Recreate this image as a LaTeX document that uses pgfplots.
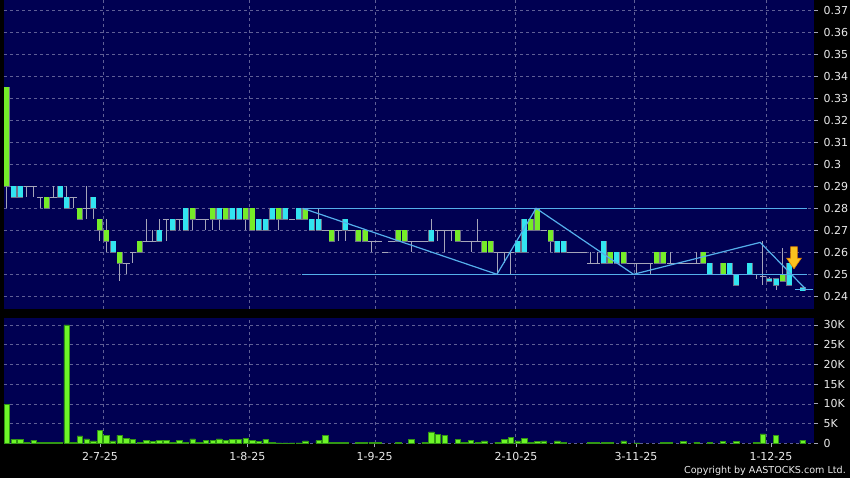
\documentclass[border=0pt]{standalone}
\usepackage{pgfplots}
\pgfplotsset{compat=1.18}
\usepackage{pgfplotstable}
\usepackage{fontspec}
\setmainfont{DejaVu Sans}

\definecolor{navy}{RGB}{0,0,82}
\definecolor{upgreen}{RGB}{118,236,40}
\definecolor{upcyan}{RGB}{50,228,240}
\definecolor{wick}{RGB}{165,165,185}
\definecolor{edge}{RGB}{110,110,135}
\definecolor{trend}{RGB}{85,175,235}
\definecolor{gridc}{RGB}{95,95,150}
\definecolor{volgreen}{RGB}{110,245,40}
\definecolor{voledge}{RGB}{50,150,20}
\definecolor{labelc}{RGB}{235,235,235}
\definecolor{arrowgold}{RGB}{250,195,30}
\definecolor{arroworange}{RGB}{225,130,0}

% k = trading day index, l/h = low/high, bl/bh = body, t: 0 flat, 1 green, 2 cyan, v = volume (K)
\pgfplotstableread{
k l h bl bh t v
0 0.28 0.335 0.29 0.335 1 9.9
1 0.285 0.29 0.285 0.29 2 1.0
2 0.285 0.29 0.285 0.29 2 1.0
3 0.285 0.29 0.29 0.29 0 0.3
4 0.285 0.29 0.29 0.29 0 0.8
5 0.28 0.285 0.285 0.285 0 0.3
6 0.28 0.285 0.28 0.285 1 0.3
7 0.285 0.29 0.285 0.285 0 0.3
8 0.285 0.29 0.285 0.29 2 0.3
9 0.28 0.29 0.28 0.285 2 30.0
10 0.28 0.285 0.285 0.285 0 0.3
11 0.275 0.28 0.275 0.28 1 1.9
12 0.275 0.29 0.28 0.28 0 1.1
13 0.275 0.285 0.28 0.285 2 0.6
14 0.265 0.275 0.27 0.275 1 3.3
15 0.26 0.275 0.265 0.27 1 2.0
16 0.26 0.265 0.26 0.265 2 0.6
17 0.247 0.26 0.255 0.26 1 2.0
18 0.25 0.255 0.255 0.255 0 1.2
19 0.255 0.26 0.26 0.26 0 1.0
20 0.26 0.265 0.26 0.265 1 0.2
21 0.265 0.275 0.265 0.265 0 0.8
22 0.265 0.27 0.265 0.265 0 0.5
23 0.265 0.275 0.265 0.27 2 0.8
24 0.265 0.275 0.275 0.275 0 0.7
25 0.27 0.275 0.27 0.275 2 0.2
26 0.27 0.275 0.275 0.275 0 0.8
27 0.27 0.28 0.27 0.28 2 0.2
28 0.27 0.28 0.275 0.28 1 1.1
29 0.275 0.275 0.275 0.275 0 0.2
30 0.27 0.275 0.275 0.275 0 0.8
31 0.27 0.28 0.275 0.28 1 0.7
32 0.27 0.28 0.275 0.28 2 1.1
33 0.275 0.28 0.275 0.28 1 0.7
34 0.275 0.28 0.275 0.28 2 1.0
35 0.275 0.28 0.275 0.28 2 1.0
36 0.27 0.28 0.275 0.28 1 1.2
37 0.27 0.28 0.27 0.28 1 0.8
38 0.27 0.275 0.27 0.275 2 0.4
39 0.27 0.275 0.27 0.275 2 1.0
40 0.275 0.28 0.275 0.28 2 0.25
41 0.27 0.28 0.275 0.28 1 0.1
42 0.275 0.28 0.275 0.28 2 0.1
43 0.275 0.275 0.275 0.275 0 0.1
44 0.275 0.28 0.275 0.28 2 0.1
45 0.275 0.28 0.275 0.28 1 0.6
46 0.27 0.275 0.27 0.275 2 0
47 0.27 0.28 0.27 0.275 2 0.7
48 0.27 0.27 0.27 0.27 0 2.1
49 0.265 0.27 0.265 0.27 1 0.3
50 0.265 0.27 0.27 0.27 0 0.25
51 0.265 0.275 0.27 0.275 2 0.3
52 0.27 0.27 0.27 0.27 0 0
53 0.265 0.27 0.265 0.27 1 0.3
54 0.265 0.27 0.265 0.27 1 0.3
55 0.26 0.265 0.265 0.265 0 0.3
56 0.265 0.265 0.265 0.265 0 0.3
57 0.26 0.26 0.26 0.26 0 0
58 0.265 0.265 0.265 0.265 0 0
59 0.265 0.27 0.265 0.27 1 0.2
60 0.265 0.27 0.265 0.27 1 0
61 0.26 0.265 0.265 0.265 0 1.0
62 0.265 0.265 0.265 0.265 0 0
63 0.265 0.265 0.265 0.265 0 0.25
64 0.265 0.275 0.265 0.27 2 2.9
65 0.265 0.27 0.27 0.27 0 2.3
66 0.26 0.27 0.27 0.27 0 2.1
67 0.265 0.27 0.27 0.27 0 0
68 0.265 0.27 0.265 0.27 1 1.0
69 0.265 0.265 0.265 0.265 0 0.2
70 0.26 0.265 0.265 0.265 0 0.8
71 0.265 0.275 0.265 0.265 0 0.2
72 0.26 0.265 0.26 0.265 1 0.6
73 0.26 0.265 0.26 0.265 1 0
74 0.25 0.26 0.26 0.26 0 0.3
75 0.255 0.26 0.26 0.26 0 1.0
76 0.25 0.26 0.26 0.26 0 1.4
77 0.26 0.265 0.26 0.265 2 0.6
78 0.26 0.275 0.26 0.275 2 1.3
79 0.27 0.275 0.27 0.275 1 0.3
80 0.27 0.28 0.27 0.28 1 0.5
81 0.27 0.27 0.27 0.27 0 0.6
82 0.26 0.27 0.265 0.27 1 0
83 0.26 0.265 0.26 0.265 2 0.6
84 0.26 0.265 0.26 0.265 2 0.3
85 0.26 0.26 0.26 0.26 0 0
86 0.26 0.26 0.26 0.26 0 0
87 0.26 0.26 0.26 0.26 0 0
88 0.255 0.26 0.255 0.255 0 0.2
89 0.255 0.26 0.255 0.255 0 0.3
90 0.255 0.265 0.255 0.265 2 0.2
91 0.255 0.26 0.255 0.26 1 0.3
92 0.255 0.26 0.255 0.26 2 0
93 0.255 0.26 0.255 0.26 1 0.6
94 0.255 0.255 0.255 0.255 0 0
95 0.25 0.255 0.255 0.255 0 0.1
96 0.255 0.255 0.255 0.255 0 0
97 0.25 0.255 0.255 0.255 0 0
98 0.255 0.26 0.255 0.26 1 0
99 0.255 0.26 0.255 0.26 1 0.2
100 0.255 0.26 0.255 0.255 0 0.2
101 0.255 0.255 0.255 0.255 0 0
102 0.255 0.255 0.255 0.255 0 0.4
103 0.255 0.255 0.255 0.255 0 0
104 0.255 0.26 0.255 0.255 0 0.3
105 0.255 0.26 0.255 0.26 1 0
106 0.25 0.255 0.25 0.255 2 0.3
107 0.25 0.25 0.25 0.25 0 0
108 0.25 0.255 0.25 0.255 1 0.4
109 0.25 0.255 0.25 0.255 2 0
110 0.245 0.25 0.245 0.25 2 0.4
111 0.25 0.25 0.25 0.25 0 0
112 0.25 0.255 0.25 0.255 2 0
113 0.248 0.25 0.25 0.25 0 0.2
114 0.245 0.265 0.249 0.249 0 2.4
115 0.247 0.249 0.247 0.248 2 0
116 0.243 0.248 0.245 0.248 2 2.1
117 0.247 0.262 0.247 0.25 1 0
118 0.245 0.255 0.245 0.255 2 0
120 0.2425 0.244 0.2425 0.244 2 0.8
}\candles

\pgfplotsset{
  panel/.style={
    scale only axis, width=810pt, xmin=-0.45, xmax=121.72,
    axis background/.style={fill=navy},
    separate axis lines, axis x line*=bottom, axis y line*=right,
    axis line style={draw=none},
    tick align=outside, tick style={draw=wick, line width=0.8pt},
    major tick length=4pt,
    ymajorgrids,
    major grid style={gridc, dash pattern=on 3pt off 3pt, line width=0.6pt},
    extra x ticks={14.52,36.55,55.55,76.67,94.62,114.58},
    extra x tick labels={},
    extra x tick style={grid=major, major tick length=0pt},
    ticklabel style={font=\fontsize{11}{13}\selectfont, text=labelc},
    yticklabel style={xshift=2pt},
    clip=false,
  },
  candle/.style={draw=none, mark=none},
}

\begin{document}
\begin{tikzpicture}
\useasboundingbox (0,0) rectangle (850pt,478pt);
\fill[black] (0,0) rectangle (850pt,478pt);

% price panel
\begin{axis}[panel, at={(4pt,169pt)}, anchor=south west, height=309pt,
  ymin=0.23423, ymax=0.37468, xtick=\empty,
  ytick={0.24,0.25,0.26,0.27,0.28,0.29,0.30,0.31,0.32,0.33,0.34,0.35,0.36,0.37},
  yticklabels={0.24,0.25,0.26,0.27,0.28,0.29,0.3,0.31,0.32,0.33,0.34,0.35,0.36,0.37}]

% wicks
\addplot[candle, error bars/.cd, y dir=both, y explicit, error mark=none,
  error bar style={draw=wick, line width=1pt}]
  table[x=k, y expr={(\thisrow{l}+\thisrow{h})/2}, y error expr={(\thisrow{h}-\thisrow{l})/2}] {\candles};
% flat days
\addplot[candle, restrict expr to domain={\thisrow{t}}{0:0},
  error bars/.cd, x dir=both, x fixed=0.5, error mark=none,
  error bar style={draw=wick, line width=1pt}]
  table[x=k, y=bl] {\candles};
% body outline
\addplot[candle, restrict expr to domain={\thisrow{t}}{1:2},
  error bars/.cd, y dir=both, y explicit, error mark=none,
  error bar style={draw=edge, line width=6pt}]
  table[x=k, y expr={(\thisrow{bl}+\thisrow{bh})/2}, y error expr={(\thisrow{bh}-\thisrow{bl})/2+0.0003}] {\candles};
% green bodies
\addplot[candle, restrict expr to domain={\thisrow{t}}{1:1},
  error bars/.cd, y dir=both, y explicit, error mark=none,
  error bar style={draw=upgreen, line width=5pt}]
  table[x=k, y expr={(\thisrow{bl}+\thisrow{bh})/2}, y error expr={(\thisrow{bh}-\thisrow{bl})/2}] {\candles};
% cyan bodies
\addplot[candle, restrict expr to domain={\thisrow{t}}{2:2},
  error bars/.cd, y dir=both, y explicit, error mark=none,
  error bar style={draw=upcyan, line width=5pt}]
  table[x=k, y expr={(\thisrow{bl}+\thisrow{bh})/2}, y error expr={(\thisrow{bh}-\thisrow{bl})/2}] {\candles};

% trend lines
\addplot[trend, line width=1.2pt] coordinates {(44.6,0.28) (120.7,0.28)};
\addplot[trend, line width=1.2pt] coordinates {(44.5,0.25) (120.7,0.25)};
\addplot[trend, line width=1.2pt] coordinates {(44.6,0.28) (73.9,0.25) (79.8,0.28) (94.5,0.25) (113.6,0.2645) (120.4,0.2435)};
\addplot[trend, line width=1.2pt] coordinates {(118.9,0.2432) (121.6,0.2432)};

% signal arrow
\filldraw[fill=arrowgold, draw=arroworange, line width=0.6pt]
  (axis cs:118.2,0.2625) -- (axis cs:119.2,0.2625) -- (axis cs:119.2,0.2573)
  -- (axis cs:119.8,0.2573) -- (axis cs:118.7,0.2525) -- (axis cs:117.6,0.2573)
  -- (axis cs:118.2,0.2573) -- cycle;
\end{axis}

% volume panel
\begin{axis}[panel, at={(4pt,34.7pt)}, anchor=south west, height=125.3pt,
  ymin=0, ymax=31.77,
  ytick={0,5,10,15,20,25,30}, yticklabels={0,5K,10K,15K,20K,25K,30K},
  xtick={14.03,36.27,55.46,76.77,94.87,115.23},
  xticklabels={2-7-25,1-8-25,1-9-25,2-10-25,3-11-25,1-12-25},
  xticklabel style={yshift=-2pt}]
\addplot[ybar, bar width=5.4pt, fill=volgreen, draw=voledge, line width=0.6pt,
  restrict y to domain=0.01:100]
  table[x=k, y=v] {\candles};
\end{axis}

\node[anchor=base east, inner sep=0pt, text=labelc, font=\fontsize{9.6}{12}\selectfont]
  at (846pt,4.5pt) {Copyright by AASTOCKS.com Ltd.};
\end{tikzpicture}
\end{document}
